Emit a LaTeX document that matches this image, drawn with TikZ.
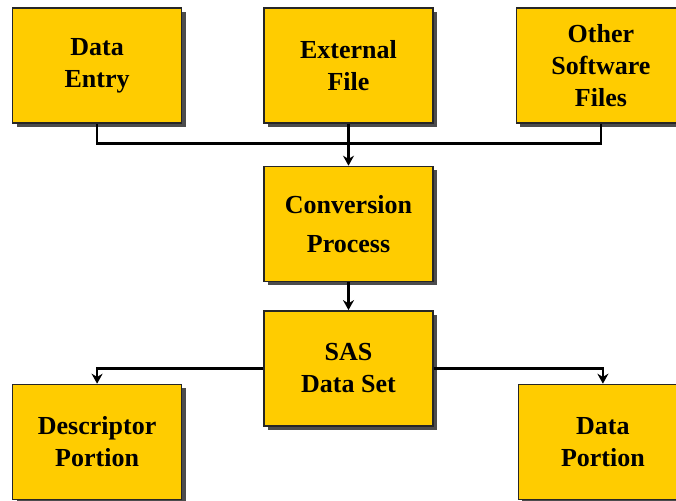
\documentclass[tikz,border=0pt]{standalone}
\usepackage{fontspec}
\setmainfont{Liberation Serif}
\usepackage{tikz}
\usetikzlibrary{arrows, arrows.meta, positioning, shadows}
\definecolor{boxgold}{HTML}{FFCC00}
\tikzstyle{box} = [rectangle, draw=black!85, line width=1.4pt, fill=boxgold, minimum width=169pt, minimum height=115pt, inner sep=0pt, font=\bfseries\fontsize{26}{32}\selectfont, drop shadow={shadow xshift=4pt, shadow yshift=-4pt, fill=black!70, opacity=1}]
\tikzstyle{line} = [line width=2.8pt]
\tikzstyle{arrow} = [line, -{Stealth[length=10pt, width=11pt]}]

\begin{document}
\begin{tikzpicture}[auto, align=center]
\useasboundingbox (-348.5pt,65.5pt) rectangle (327.5pt,-434.5pt);

\node(ext)[box] {External\\File};
\node(entry)[box, left = 81pt of ext] {Data\\Entry};
\node(other)[box, right = 82pt of ext] {Other\\Software\\Files};

\node(conv)[box, below = 42pt of ext, font=\bfseries\fontsize{26}{39}\selectfont] {Conversion\\Process};
\node(sas)[box, below = 28pt of conv] {SAS\\Data Set};

\node(desc)[box, below = 260pt of entry] {Descriptor\\Portion};
\node(dport)[box, below = 260pt of other, xshift=2pt] {Data\\Portion};

\draw [line] (entry.south) -- ++(0,-20pt) -| (other.south);
\draw [arrow] (ext.south) -- (conv.north);
\draw [arrow] (conv.south) -- (sas.north);
\draw [arrow] (sas.west) -| (desc.north);
\draw [arrow] (sas.east) -| (dport.north);

\end{tikzpicture}
\end{document}
